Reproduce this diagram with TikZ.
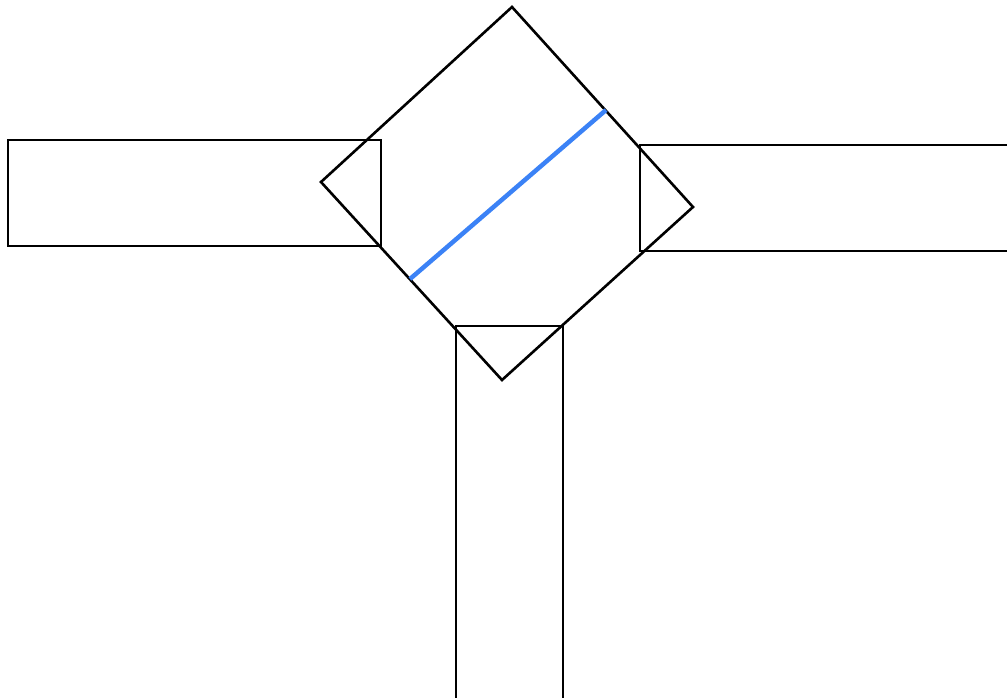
\documentclass[tikz,border=0pt]{standalone}
\begin{document}
\begin{tikzpicture}[x=1pt,y=-1pt,
  shape line/.style={draw=black,line width=2.6pt,line join=miter},
  axis line/.style={draw={rgb,255:red,59;green,130;blue,246},line width=4.5pt}]
\useasboundingbox (0,0) rectangle (1007,698);
\clip (0,0) rectangle (1007,698);
% rotated square
\coordinate (dt) at (512,7);
\coordinate (dr) at (693,207);
\coordinate (db) at (502,380);
\coordinate (dl) at (321,182);
\draw[shape line] (dt) -- (dr) -- (db) -- (dl) -- cycle;
% rectangles
\draw[shape line] (8,140) rectangle (381,246);
\draw[shape line] (640,145) rectangle (1020,251);
\draw[shape line] (456,326) rectangle (563,710);
% blue line
\coordinate (b1) at (410,279);
\coordinate (b2) at (606,110);
\draw[axis line] (b1) -- (b2);
\end{tikzpicture}
\end{document}
